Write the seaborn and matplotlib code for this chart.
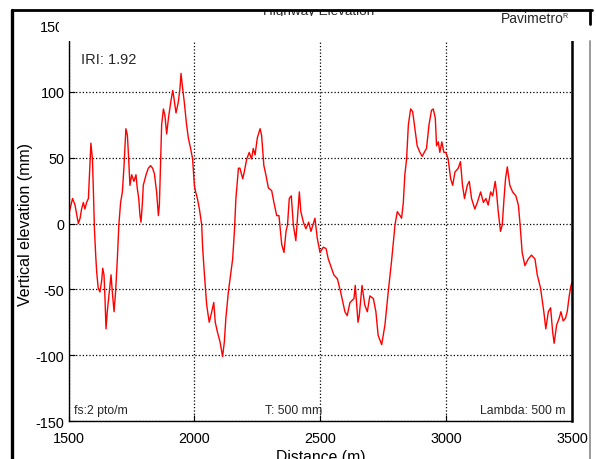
import matplotlib
matplotlib.use("Agg")
import matplotlib.pyplot as plt
from matplotlib.lines import Line2D
from matplotlib.patches import Rectangle
import pandas as pd
import seaborn as sns

# elevation profile (distance in m, elevation in mm)
distance = [
    1500, 1516, 1526, 1539, 1546, 1552, 1559, 1565, 1572, 1579, 1589, 1595, 1599,
    1603, 1608, 1612, 1618, 1625, 1632, 1636, 1641, 1645, 1649, 1654, 1662, 1669,
    1674, 1681, 1687, 1694, 1700, 1707, 1714, 1720, 1728, 1734, 1739, 1744, 1751,
    1760, 1768, 1773, 1779, 1784, 1788, 1793, 1797, 1808, 1817, 1826, 1834, 1841,
    1850, 1857, 1861, 1866, 1870, 1877, 1883, 1890, 1897, 1906, 1914, 1919, 1927,
    1936, 1943, 1947, 1952, 1960, 1969, 1976, 1985, 1993, 2000, 2005, 2012, 2020,
    2029, 2033, 2040, 2049, 2059, 2069, 2077, 2083, 2091, 2102, 2112, 2119, 2125,
    2135, 2144, 2152, 2159, 2165, 2175, 2181, 2192, 2198, 2208, 2218, 2227, 2234,
    2241, 2250, 2261, 2267, 2276, 2284, 2294, 2307, 2316, 2327, 2336, 2347, 2356,
    2364, 2370, 2377, 2385, 2393, 2403, 2410, 2417, 2423, 2433, 2443, 2454, 2463,
    2479, 2488, 2499, 2512, 2523, 2532, 2541, 2554, 2568, 2581, 2598, 2607, 2618,
    2634, 2639, 2650, 2655, 2666, 2677, 2687, 2697, 2711, 2721, 2730, 2744, 2757,
    2770, 2783, 2797, 2806, 2817, 2823, 2830, 2836, 2843, 2850, 2859, 2867, 2876,
    2885, 2896, 2905, 2913, 2922, 2932, 2942, 2949, 2957, 2962, 2969, 2975, 2983,
    2991, 2999, 3008, 3018, 3026, 3035, 3048, 3057, 3065, 3073, 3084, 3092, 3101,
    3114, 3124, 3137, 3148, 3158, 3167, 3177, 3185, 3195, 3200, 3207, 3216, 3223,
    3230, 3236, 3243, 3253, 3264, 3277, 3287, 3293, 3302, 3313, 3326, 3339, 3353,
    3362, 3375, 3388, 3396, 3406, 3415, 3423, 3429, 3439, 3449, 3456, 3465, 3474,
    3481, 3489, 3496, 3500,
]
elevation = [
    6, 19, 14, 0, 4, 11, 16, 11, 16, 19, 61, 49, 24,
    -4, -24, -37, -49, -52, -43, -34, -39, -57, -80, -67, -52, -39,
    -52, -67, -52, -27, -1, 16, 24, 42, 72, 67, 49, 29, 37,
    32, 37, 27, 19, 6, 1, 14, 29, 37, 42, 44, 42, 38,
    24, 6, 14, 49, 75, 87, 82, 68, 80, 92, 101, 95, 84,
    92, 103, 114, 105, 92, 75, 65, 57, 49, 29, 24, 19, 11,
    -1, -19, -39, -62, -75, -67, -60, -75, -82, -90, -101, -90, -72,
    -52, -39, -27, -6, 19, 42, 42, 34, 39, 49, 54, 49, 57,
    52, 65, 72, 67, 44, 37, 27, 25, 16, 6, 6, -16, -22,
    -6, -1, 19, 21, -1, -13, 6, 24, 9, 1, -4, 1, -6,
    4, -11, -22, -18, -19, -27, -32, -39, -42, -52, -67, -70, -60,
    -57, -47, -75, -70, -47, -62, -67, -55, -57, -67, -85, -92, -77,
    -52, -29, -1, 9, 6, 4, 16, 37, 49, 75, 87, 85, 72,
    59, 54, 51, 54, 57, 75, 86, 87, 80, 59, 62, 54, 62,
    54, 54, 49, 34, 29, 39, 42, 47, 29, 19, 29, 32, 19,
    11, 16, 24, 16, 19, 14, 24, 21, 32, 24, 9, -6, -1,
    19, 34, 43, 29, 24, 21, 14, 1, -22, -32, -27, -24, -27,
    -39, -49, -67, -80, -67, -64, -82, -91, -77, -72, -67, -74, -72,
    -67, -55, -47, -45,
]

x_ticks = [1500, 2000, 2500, 3000, 3500]
y_ticks = [-150, -100, -50, 0, 50, 100, 150]

title = "Highway Elevation"
brand = "Pavimetro"
iri_label = "IRI: 1.92"
fs_label = "fs:2 pto/m"
t_label = "T: 500 mm"
lambda_label = "Lambda: 500 m"

W, H = 596, 460


def fx(px):
    return px / W


def fy(py):
    return 1 - py / H


sns.set_theme(style="white")
plt.rcParams["font.family"] = ["Liberation Sans", "DejaVu Sans"]
plt.rcParams["axes.unicode_minus"] = False

fig = plt.figure(figsize=(W / 100, H / 100), dpi=100)
ax = fig.add_axes([fx(68.5), fy(422), fx(572) - fx(68.5), fy(27) - fy(422)])

df = pd.DataFrame({"distance": distance, "elevation": elevation})
sns.lineplot(data=df, x="distance", y="elevation", color="red", linewidth=1.0, ax=ax)

ax.set_xlim(1500, 3500)
ax.set_ylim(-150, 150)
ax.set_xticks(x_ticks)
ax.set_yticks(y_ticks)
ax.tick_params(axis="both", direction="in", length=4, width=0.8, labelsize=10.4,
               colors="black", bottom=True, left=True)
ax.tick_params(axis="x", pad=7.5)
ax.tick_params(axis="y", pad=3)
ax.grid(True, linestyle=":", color="black", linewidth=0.9)
ax.set_xlabel("Distance (m)", fontsize=11.3, labelpad=2.5, color="black")
ax.set_ylabel("Vertical elevation (mm)", fontsize=11.5, labelpad=2, color="black")
for side, sp in ax.spines.items():
    sp.set_color("black")
    sp.set_linewidth(1.0)
ax.spines["right"].set_linewidth(1.8)

ax.text(1550, 125, iri_label, fontsize=10.5, ha="left", va="center")
ax.text(1522, -141.5, fs_label, fontsize=8.8, ha="left", va="center")
ax.text(2280, -141.5, t_label, fontsize=8.8, ha="left", va="center")
ax.text(3474, -141.5, lambda_label, fontsize=8.8, ha="right", va="center")

# window title, half hidden behind the frame
fig.text(fx(319), fy(14.5), title, ha="center", va="baseline", fontsize=9.7, zorder=1)
fig.add_artist(Rectangle((0, fy(11)), 1, 1 - fy(11), transform=fig.transFigure,
                         facecolor="white", edgecolor="none", zorder=3))
# white panel covering the top of the axes
fig.add_artist(Rectangle((fx(58.5), fy(41.5)), fx(585) - fx(58.5), fy(17) - fy(41.5),
                         transform=fig.transFigure, facecolor="white",
                         edgecolor="none", zorder=3))

# outer frame
fig.add_artist(Line2D([fx(12), fx(592)], [fy(11), fy(11)], transform=fig.transFigure,
                      color="black", linewidth=2.0, zorder=4))
fig.add_artist(Line2D([fx(12), fx(12)], [fy(11), fy(460)], transform=fig.transFigure,
                      color="black", linewidth=2.4, zorder=4))
fig.add_artist(Line2D([fx(590), fx(590)], [fy(11), fy(25)], transform=fig.transFigure,
                      color="black", linewidth=2.0, zorder=4))
fig.add_artist(Line2D([fx(590), fx(590)], [fy(42), fy(460)], transform=fig.transFigure,
                      color="#9a9a9a", linewidth=1.4, zorder=4))

fig.text(fx(501), fy(23), brand, ha="left", va="baseline", fontsize=10, zorder=5)
fig.text(fx(562), fy(18), "R", ha="left", va="baseline", fontsize=5, zorder=5)

fig.savefig("out.png", dpi=100)
